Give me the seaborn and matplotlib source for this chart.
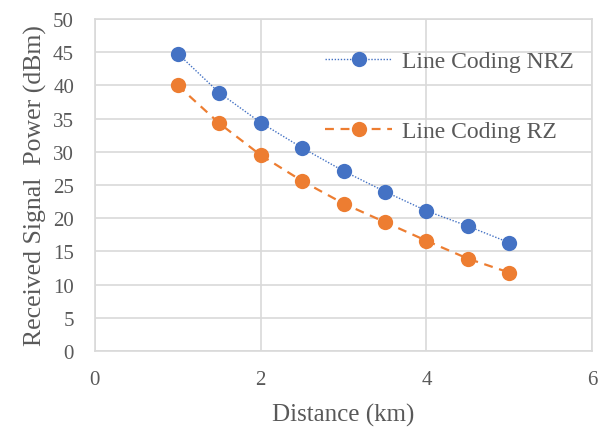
import pandas as pd
import matplotlib
matplotlib.use("Agg")
import matplotlib.pyplot as plt
import seaborn as sns

distance = [1, 1.5, 2, 2.5, 3, 3.5, 4, 4.5, 5]
power_nrz = [44.8, 38.9, 34.4, 30.6, 27.1, 24.0, 21.1, 18.8, 16.3]
power_rz = [40.0, 34.3, 29.5, 25.6, 22.2, 19.4, 16.6, 13.9, 11.8]

df = pd.DataFrame({
    "Distance (km)": distance * 2,
    "power": power_nrz + power_rz,
    "series": ["Line Coding NRZ"] * len(distance) + ["Line Coding RZ"] * len(distance),
})

sns.set_style("white")
plt.rcParams["font.family"] = ["Liberation Serif", "DejaVu Serif"]
txt = "#595959"
grid = "#d9d9d9"

fig = plt.figure(figsize=(6.08, 4.35), dpi=100)
ax = fig.add_axes([0.156, 0.191, 0.818, 0.763])

colors = {"Line Coding NRZ": "#4472C4", "Line Coding RZ": "#ED7D31"}
styles = {"Line Coding NRZ": (0, (1, 1.2)), "Line Coding RZ": (0, (4, 3))}
widths = {"Line Coding NRZ": 1.0, "Line Coding RZ": 1.6}
for name, sub in df.groupby("series"):
    sns.lineplot(data=sub, x="Distance (km)", y="power", ax=ax, color=colors[name],
                 linestyle=styles[name], linewidth=widths[name], marker="o",
                 markersize=11, markeredgewidth=0, label=name)

ax.set_xlim(0, 6)
ax.set_ylim(0, 50)
ax.set_xticks([0, 2, 4, 6])
ax.set_yticks(range(0, 51, 5))
ax.grid(True, color=grid, linewidth=1.2)
for s in ax.spines.values():
    s.set_color(grid)
    s.set_linewidth(1.2)
ax.tick_params(colors=txt, labelsize=15, length=0)
ax.tick_params(axis="y", pad=15)
ax.tick_params(axis="x", pad=14)
ax.set_xlabel("Distance (km)", color=txt, fontsize=18, labelpad=10)
ax.set_ylabel("Received Signal  Power (dBm)", color=txt, fontsize=18.5, labelpad=4)

leg = ax.legend(loc="upper left", bbox_to_anchor=(0.42, 0.968), frameon=False,
                fontsize=17, labelspacing=2.05, handlelength=2.85, handletextpad=0.4)
for t in leg.get_texts():
    t.set_color(txt)

fig.savefig("out.png", dpi=100)
